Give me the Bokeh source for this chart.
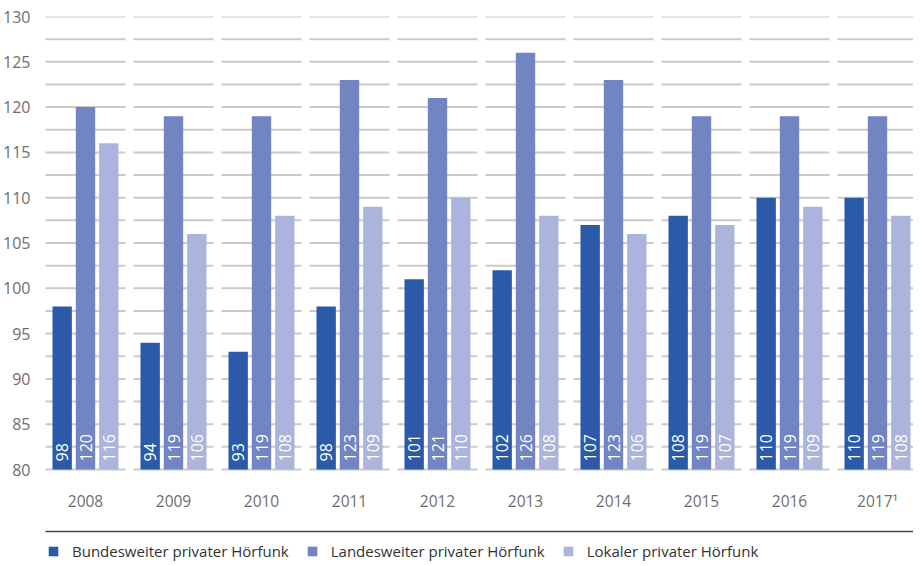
import math
from bokeh.plotting import figure
from bokeh.models import Range1d, Legend, LegendItem, FixedTicker
from bokeh.core.properties import value
from bokeh.embed import file_html
from bokeh.resources import INLINE

# ---- data ----
years = ["2008", "2009", "2010", "2011", "2012", "2013", "2014", "2015", "2016", "2017\u00b9"]
bundesweit = [98, 94, 93, 98, 101, 102, 107, 108, 110, 110]
landesweit = [120, 119, 119, 123, 121, 126, 123, 119, 119, 119]
lokal = [116, 106, 108, 109, 110, 108, 106, 107, 109, 108]
series_names = ["Bundesweiter privater Hörfunk", "Landesweiter privater Hörfunk", "Lokaler privater Hörfunk"]
y_ticks = [80, 85, 90, 95, 100, 105, 110, 115, 120, 125, 130]

# ---- style ----
colors = ["#2b5ba8", "#7384c2", "#abb4dc"]
FONT = "Open Sans"
grid_color = "#cacaca"
px_per_unit = 9.06
frame_w, frame_h = 872, 546
px_per_cat = 88.0
y_min, y_max = y_ticks[0], y_ticks[-1]
y_start = y_max - frame_h / px_per_unit
x_start = -0.5
x_end = x_start + frame_w / px_per_cat

p = figure(frame_width=frame_w, frame_height=frame_h,
           x_range=Range1d(x_start, x_end), y_range=Range1d(y_start, y_max),
           output_backend="svg", toolbar_location=None,
           min_border_left=34, min_border_right=0, min_border_top=16, min_border_bottom=0)
p.outline_line_color = None
p.grid.visible = False
p.xaxis.visible = False

ya = p.yaxis[0]
ya.ticker = FixedTicker(ticks=y_ticks)
ya.axis_line_color = None
ya.major_tick_line_color = None
ya.minor_tick_line_color = None
ya.major_label_standoff = 5
ya.major_label_text_font = FONT
ya.major_label_text_font_size = "16px"
ya.major_label_text_color = "#6e6e6e"

idx = list(range(len(years)))

# segmented grid lines (one segment per category)
half = 40.0 / px_per_cat
levels = []
for t in y_ticks:
    levels.append(t)
    if t < y_max:
        levels.append(t + 2.5)
gx0, gx1, gy = [], [], []
for i in idx:
    for lv in levels:
        gx0.append(i - half)
        gx1.append(i + half)
        gy.append(lv)
p.segment(x0=gx0, x1=gx1, y0=gy, y1=gy, line_color=grid_color, line_width=2)

# bars
offsets = [-0.265, 0.0, 0.265]
bar_w = 0.22
renderers = []
for s, (vals, off, col) in enumerate(zip([bundesweit, landesweit, lokal], offsets, colors)):
    xs = [i + off for i in idx]
    r = p.vbar(x=xs, top=vals, bottom=y_min, width=bar_w, fill_color=col, line_color=None)
    renderers.append(r)
    p.text(x=xs, y=[y_min] * len(vals), text=[str(v) for v in vals],
           angle=math.pi / 2, text_align="left", text_baseline="middle",
           y_offset=-8, text_color="white", text_font=value(FONT), text_font_size="16px")

# category labels
p.text(x=idx, y=[y_min] * len(idx), text=years, y_offset=31,
       text_align="center", text_baseline="middle",
       text_color="#6e6e6e", text_font=value(FONT), text_font_size="15.5px")

# separator line
sep_y = y_min - 62 / px_per_unit
p.segment(x0=[x_start + 4 / px_per_cat], x1=[len(years) - 1 + half], y0=[sep_y], y1=[sep_y],
          line_color="#444444", line_width=1.5)

legend = Legend(items=[LegendItem(label=n, renderers=[r]) for n, r in zip(series_names, renderers)],
                orientation="horizontal", location=(6, 1), padding=0, margin=0,
                spacing=17, glyph_width=12, glyph_height=12, label_standoff=13,
                border_line_color=None, background_fill_alpha=0,
                label_text_font=FONT, label_text_font_size="15px", label_text_color="#333333")
p.add_layout(legend)

open("out.html", "w").write(file_html(p, INLINE))
